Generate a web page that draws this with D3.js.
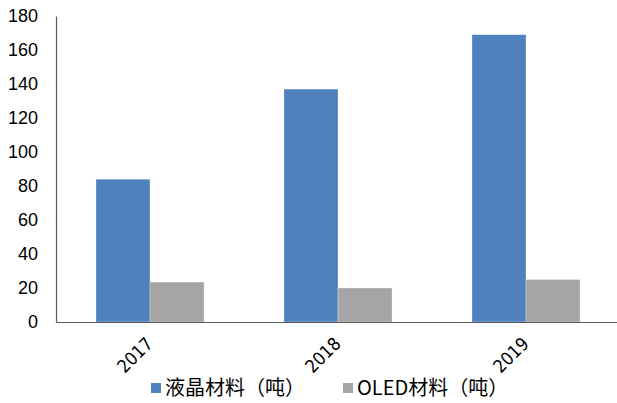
<!DOCTYPE html>
<html>
<head>
<meta charset="utf-8">
<script src="https://cdn.jsdelivr.net/npm/d3@7/dist/d3.min.js"></script>
<style>
  html, body { margin: 0; padding: 0; background: #fff; }
  svg { display: block; }
</style>
</head>
<body>
<svg id="chart" width="617" height="403"></svg>
<script>
// Annual material volumes, in tonnes
const years = ["2017", "2018", "2019"];
const lcdValues = [84, 137, 169];
const oledValues = [23.5, 20, 25];
const seriesNames = ["液晶材料（吨）", "OLED材料（吨）"];
const seriesColors = ["#4F81BD", "#A5A5A5"];
const yTicks = [0, 20, 40, 60, 80, 100, 120, 140, 160, 180];

const svg = d3.select("#chart");
const margin = { left: 56, top: 16, bottom: 81 };
const plotRight = 620;
const height = 403;
const y0 = height - margin.bottom; // 322

const x = d3.scaleBand().domain(years).range([margin.left, plotRight]).paddingInner(0).paddingOuter(0);
const inner = d3.scaleBand().domain([0, 1]).range([0, x.bandwidth()]).paddingInner(0).paddingOuter(0.74);
const y = d3.scaleLinear().domain([0, 180]).range([y0, margin.top]);

const series = [lcdValues, oledValues];

// Bars
series.forEach((vals, si) => {
  svg.append("g").selectAll("rect")
    .data(vals)
    .join("rect")
    .attr("x", (d, i) => x(years[i]) + inner(si))
    .attr("y", d => y(d))
    .attr("width", inner.bandwidth())
    .attr("height", d => y(0) - y(d))
    .attr("fill", seriesColors[si])
    .attr("stroke", "#ffffff")
    .attr("stroke-opacity", 0.5)
    .attr("stroke-width", 0.6);
});

// Y axis
const yAxis = d3.axisLeft(y).tickValues(yTicks).tickSize(0).tickPadding(18);
const gy = svg.append("g").attr("transform", `translate(${margin.left},0)`).call(yAxis);
gy.select(".domain").attr("stroke", "#595959").attr("stroke-width", 1.2);
gy.selectAll("text")
  .attr("font-family", "'Liberation Sans', Arial, sans-serif")
  .attr("font-size", 18)
  .attr("fill", "#000");

// X axis line
const gx = svg.append("g").attr("transform", `translate(0,${y0})`)
  .call(d3.axisBottom(x).tickSize(0).tickFormat(""));
gx.select(".domain").attr("stroke", "#595959").attr("stroke-width", 1.2);

// Rotated year labels
svg.append("g").selectAll("text")
  .data(years)
  .join("text")
  .attr("transform", d => `translate(${x(d) + x.bandwidth() / 2 - 5},${y0 + 14}) rotate(-45)`)
  .attr("text-anchor", "end")
  .attr("dy", "0.7em")
  .attr("font-family", "'DejaVu Sans Condensed', 'Liberation Sans Narrow', sans-serif")
  .attr("font-size", 18)
  .attr("fill", "#000")
  .text(d => d);

// Legend
const legendItems = [
  { name: seriesNames[0], color: seriesColors[0], x: 151 },
  { name: seriesNames[1], color: seriesColors[1], x: 343 }
];
const lg = svg.append("g");
legendItems.forEach(item => {
  lg.append("rect")
    .attr("x", item.x).attr("y", 383)
    .attr("width", 10).attr("height", 10)
    .attr("fill", item.color);
  lg.append("text")
    .attr("x", item.x + 14).attr("y", 388)
    .attr("dy", "0.36em")
    .attr("font-family", "'Noto Sans CJK SC', sans-serif")
    .attr("font-size", 20)
    .attr("fill", "#000")
    .text(item.name);
});
</script>
</body>
</html>
